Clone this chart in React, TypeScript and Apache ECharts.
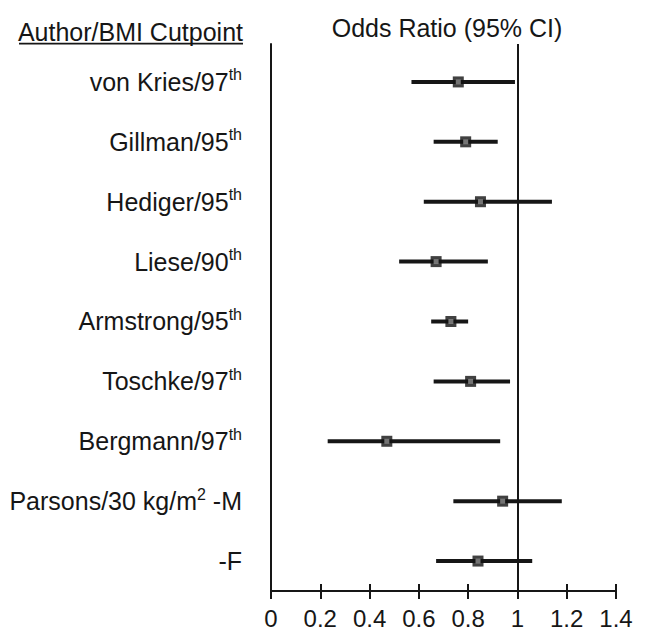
import React, { useEffect, useRef } from "react";
import * as echarts from "echarts";

// ---- data ----
const studyNames = [
  "von Kries/97",
  "Gillman/95",
  "Hediger/95",
  "Liese/90",
  "Armstrong/95",
  "Toschke/97",
  "Bergmann/97",
  "Parsons/30 kg/m",
  "-F",
];
const studySuperscripts = ["th", "th", "th", "th", "th", "th", "th", "2", ""];
const studySuffixes = ["", "", "", "", "", "", "", " -M", ""];
const oddsRatios = [0.76, 0.79, 0.85, 0.67, 0.73, 0.81, 0.47, 0.94, 0.84];
const ciLower = [0.57, 0.66, 0.62, 0.52, 0.65, 0.66, 0.23, 0.74, 0.67];
const ciUpper = [0.99, 0.92, 1.14, 0.88, 0.8, 0.97, 0.93, 1.18, 1.06];
const xTickValues = [0, 0.2, 0.4, 0.6, 0.8, 1, 1.2, 1.4];
const xTickLabels = ["0", "0.2", "0.4", "0.6", "0.8", "1", "1.2", "1.4"];
const referenceValue = 1;
const titleText = "Odds Ratio (95% CI)";
const headerText = "Author/BMI Cutpoint";

const FONT = "'Liberation Sans', Arial, Helvetica, sans-serif";
const INK = "#161616";

export default function App() {
  const ref = useRef<HTMLDivElement>(null);

  useEffect(() => {
    if (!ref.current) return;
    const chart = echarts.init(ref.current, undefined, { renderer: "svg" });
    const n = studyNames.length;
    const rowValue = (i: number) => n - i; // top row = n
    const rows = studyNames.map((_, i) => rowValue(i));

    const ciData = studyNames.map((_, i) => [rowValue(i), ciLower[i], ciUpper[i]]);
    const pointData = studyNames.map((_, i) => [oddsRatios[i], rowValue(i)]);

    const labelFor = (v: number) => {
      const i = n - Math.round(v);
      if (i < 0 || i >= n) return "";
      let s = "{a|" + studyNames[i] + "}";
      if (studySuperscripts[i]) s += "{s|" + studySuperscripts[i] + "}";
      if (studySuffixes[i]) s += "{a|" + studySuffixes[i] + "}";
      return s;
    };

    const option: any = {
      animation: false,
      backgroundColor: "#ffffff",
      textStyle: { fontFamily: FONT, color: INK },
      grid: { left: 271, right: 30, top: 44, bottom: 38, containLabel: false },
      xAxis: [
        {
          type: "value",
          min: 0,
          max: 1.4,
          interval: 0.2,
          position: "bottom",
          axisLine: { show: true, onZero: false, lineStyle: { color: INK, width: 2 } },
          axisTick: { show: true, inside: false, length: 8, lineStyle: { color: INK, width: 2 } },
          axisLabel: {
            show: true,
            margin: 15,
            fontSize: 24,
            fontFamily: FONT,
            color: INK,
            formatter: (v: number) => {
              const k = xTickValues.findIndex((t) => Math.abs(t - v) < 1e-6);
              return k >= 0 ? xTickLabels[k] : "";
            },
          },
          splitLine: { show: false },
        },
        {
          type: "value",
          min: 0,
          max: 1.4,
          interval: 0.2,
          position: "bottom",
          axisLine: { show: false, onZero: false },
          axisTick: { show: true, inside: true, length: 7, lineStyle: { color: INK, width: 2 } },
          axisLabel: { show: false },
          splitLine: { show: false },
        },
      ],
      yAxis: {
        type: "value",
        min: 0.5,
        max: 0.5 + (630 - 38 - 44) / 60,
        axisLine: { show: true, onZero: false, lineStyle: { color: INK, width: 2 } },
        axisTick: { show: false },
        splitLine: { show: false },
        axisLabel: {
          show: true,
          customValues: rows,
          margin: 29,
          formatter: labelFor,
          rich: {
            a: { fontSize: 25, fontFamily: FONT, color: INK, lineHeight: 30 },
            s: { fontSize: 16, fontFamily: FONT, color: INK, lineHeight: 20, verticalAlign: "top" },
          },
        },
      },
      series: [
        {
          type: "custom",
          xAxisIndex: 0,
          z: 2,
          data: ciData,
          encode: { x: [1, 2], y: 0 },
          renderItem: (_params: any, api: any) => {
            const y = api.value(0);
            const p1 = api.coord([api.value(1), y]);
            const p2 = api.coord([api.value(2), y]);
            return {
              type: "line",
              shape: { x1: p1[0], y1: p1[1], x2: p2[0], y2: p2[1] },
              style: { stroke: INK, lineWidth: 4 },
            };
          },
        },
        {
          type: "scatter",
          xAxisIndex: 0,
          z: 3,
          symbol: "rect",
          symbolSize: 11,
          itemStyle: { color: "#111111" },
          data: pointData,
          markLine: {
            silent: true,
            symbol: ["none", "none"],
            label: { show: false },
            lineStyle: { color: INK, width: 2, type: "solid" },
            data: [{ xAxis: referenceValue }],
          },
        },
        {
          type: "scatter",
          xAxisIndex: 0,
          z: 4,
          symbol: "rect",
          symbolSize: 5,
          itemStyle: { color: "#8c8c8c" },
          data: pointData,
        },
      ],
      graphic: [
        {
          type: "text",
          x: 447,
          y: 28,
          style: {
            text: titleText,
            fontSize: 25,
            fontFamily: FONT,
            fill: INK,
            align: "center",
            verticalAlign: "middle",
          },
        },
        {
          type: "text",
          x: 243,
          y: 32,
          style: {
            text: headerText,
            fontSize: 25,
            fontFamily: FONT,
            fill: INK,
            align: "right",
            verticalAlign: "middle",
          },
        },
        {
          type: "rect",
          shape: { x: 19, y: 42.8, width: 224, height: 1.8 },
          style: { fill: INK },
        },
      ],
    };

    chart.setOption(option);
    return () => chart.dispose();
  }, []);

  return (
    <div
      ref={ref}
      style={{ position: "fixed", left: 0, top: 0, width: 646, height: 630, background: "#fff" }}
    />
  );
}
